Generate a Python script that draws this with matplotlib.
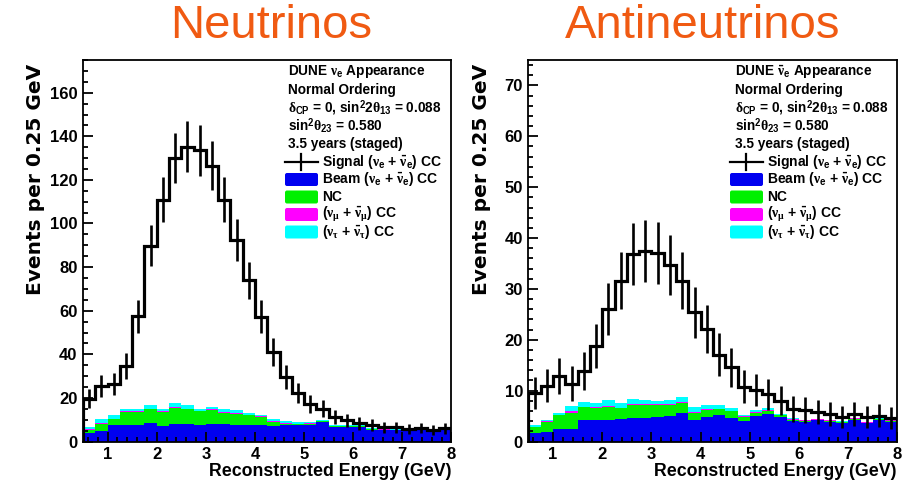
import numpy as np
import matplotlib
matplotlib.use('Agg')
import matplotlib.pyplot as plt
from matplotlib.transforms import Affine2D
from matplotlib.patches import FancyBboxPatch
from matplotlib.ticker import MultipleLocator

plt.rcParams['font.family'] = ['Liberation Sans', 'DejaVu Sans']
plt.rcParams['font.weight'] = 'bold'
plt.rcParams['mathtext.fontset'] = 'custom'
plt.rcParams['mathtext.rm'] = 'Liberation Sans:bold'
plt.rcParams['mathtext.bf'] = 'Liberation Sans:bold'
plt.rcParams['mathtext.it'] = 'Liberation Serif'

# Reconstructed energy bins (GeV), 0.25 GeV wide
edges = np.arange(0.5, 8.01, 0.25)

# Neutrino mode (events per bin)
nu_signal = [19.6, 25.3, 26.5, 34.6, 57.5, 89.8, 111, 130, 135.3, 133.5,
             126.4, 111, 92.4, 73.9, 57.2, 41, 29.6, 22.2, 17.3, 15,
             11.2, 9.7, 8.4, 7.4, 6.6, 6.6, 5.8, 6.2, 5.1, 6.1]
nu_beam = [3.8, 4.6, 7.7, 7.7, 7.7, 8.3, 7.0, 8.0, 8.0, 7.4,
           8.0, 8.0, 7.7, 7.7, 7.4, 7.0, 7.4, 7.4, 7.7, 8.9,
           6.6, 6.6, 6.6, 5.5, 5.2, 5.2, 4.6, 5.5, 4.6, 5.8]
nu_nc = [1.7, 3.5, 2.4, 5.8, 5.8, 6.4, 6.5, 7.3, 6.7, 6.4,
         6.3, 5.2, 5.0, 4.3, 3.9, 1.9, 0.6, 0.6, 0.4, 0.3,
         0.4, 0.3, 0.4, 0.3, 0.3, 0.2, 0.3, 0.2, 0.2, 0.3]
nu_numu = [0.1, 0.2, 0.2, 0.5, 0.4, 0.4, 0.4, 0.5, 0.4, 0.4,
           0.4, 0.3, 0.3, 0.3, 0.3, 0.3, 0.3, 0.2, 0.2, 0.2,
           0.1, 0.1, 0.1, 0.1, 0.1, 0.1, 0.1, 0.1, 0.1, 0.3]
nu_nutau = [1.0, 2.1, 1.7, 1.0, 1.1, 1.8, 1.1, 2.0, 1.5, 0.8,
            1.1, 1.2, 1.3, 0.9, 0.7, 1.1, 0.9, 0.7, 0.6, 0.4,
            0.3, 0.4, 0.6, 0.2, 0.2, 0.2, 0.2, 0.2, 0.2, 0.1]

# Antineutrino mode
anu_signal = [9.5, 11.0, 12.9, 11.4, 13.8, 18.8, 26.0, 31.6, 36.9, 37.5,
              37.1, 34.7, 31.6, 25.4, 22.1, 17.1, 14.6, 10.8, 10.1, 9.3,
              8.0, 6.4, 6.2, 5.8, 5.4, 4.8, 5.4, 4.8, 5.1, 4.6]
anu_beam = [1.7, 1.9, 2.4, 2.4, 4.3, 4.3, 4.3, 4.5, 4.7, 4.7,
            4.9, 5.0, 5.7, 4.3, 4.9, 5.2, 4.6, 4.0, 5.0, 5.4,
            4.9, 4.1, 3.8, 4.2, 3.9, 3.6, 4.3, 3.6, 4.2, 3.9]
anu_nc = [1.1, 2.0, 2.8, 3.3, 2.4, 2.2, 2.4, 2.0, 2.5, 2.5,
          2.3, 2.2, 1.9, 1.4, 1.3, 1.1, 1.3, 0.9, 0.7, 0.6,
          0.3, 0.2, 0.3, 0.1, 0.2, 0.2, 0.2, 0.1, 0.2, 0.1]
anu_numu = [0.05, 0.1, 0.1, 0.25, 0.1, 0.2, 0.25, 0.1, 0.1, 0.1,
            0.1, 0.1, 0.2, 0.1, 0.1, 0.1, 0.1, 0.05, 0.15, 0.2,
            0.05, 0.1, 0.05, 0.05, 0.05, 0.1, 0.05, 0.1, 0.05, 0.15]
anu_nutau = [0.35, 0.3, 0.4, 1.05, 1.0, 0.9, 1.15, 0.9, 1.0, 0.8,
             0.7, 0.8, 1.0, 0.9, 0.9, 0.8, 0.6, 0.35, 0.3, 0.3,
             0.25, 0.3, 0.15, 0.15, 0.1, 0.05, 0.15, 0.1, 0.1, 0.1]

bkg_colors = ['#0000F0', '#00F000', '#FF00FF', '#00FFFF']
title_color = '#F05A12'

W, H = 920, 484
fig = plt.figure(figsize=(W / 100, H / 100), dpi=100)
# pixel coordinates, y measured from the top
pix = Affine2D().scale(1 / W, -1 / H).translate(0, 1) + fig.transFigure


def add_axes_px(x0, x1, ytop, ybot):
    return fig.add_axes([x0 / W, 1 - ybot / H, (x1 - x0) / W, (ybot - ytop) / H])


def draw_panel(ax, signal, bkgs, ymax, ymaj, ymin):
    base = np.zeros(len(signal))
    for vals, col in zip(bkgs, bkg_colors):
        top = base + np.array(vals)
        ax.stairs(top, edges, baseline=base, fill=True, color=col, lw=0)
        base = top
    sig = np.array(signal)
    centers = 0.5 * (edges[:-1] + edges[1:])
    ax.stairs(sig, edges, color='k', lw=2.3)
    ax.errorbar(centers, sig, yerr=np.sqrt(sig), fmt='none', ecolor='k', elinewidth=1.9)
    ax.set_xlim(0.5, 8)
    ax.set_ylim(0, ymax)
    ax.set_xticks(range(1, 9))
    ax.xaxis.set_minor_locator(MultipleLocator(0.2))
    ax.yaxis.set_major_locator(MultipleLocator(ymaj))
    ax.yaxis.set_minor_locator(MultipleLocator(ymin))
    ax.tick_params(which='both', direction='in', top=False, right=False,
                   width=1.3, labelsize=12)
    ax.tick_params(which='major', length=7.5, pad=4)
    ax.tick_params(which='minor', length=3.8)
    for s in ax.spines.values():
        s.set_linewidth(1.3)


def draw_legend(xh, xbox, header):
    rows = [72, 90, 108, 126, 144]
    for y, txt in zip(rows, header):
        fig.text(xh, y, txt, transform=pix, fontsize=9.8, va='center', ha='left')
    labels = [r'Signal ($\nu_\mathrm{e}$ + $\bar{\nu}_\mathrm{e}$) CC',
              r'Beam ($\nu_\mathrm{e}$ + $\bar{\nu}_\mathrm{e}$) CC',
              'NC',
              r'($\nu_\mu$ + $\bar{\nu}_\mu$) CC',
              r'($\nu_\tau$ + $\bar{\nu}_\tau$) CC']
    ys = [162, 179.5, 197, 214.5, 232]
    bw, bh = 33, 13
    for i, (y, lab) in enumerate(zip(ys, labels)):
        if i == 0:
            fig.add_artist(plt.Line2D([xbox, xbox + bw], [y, y], transform=pix, color='k', lw=1.6))
            fig.add_artist(plt.Line2D([xbox + bw / 2, xbox + bw / 2], [y - 8, y + 8], transform=pix, color='k', lw=1.6))
        else:
            fig.add_artist(FancyBboxPatch((xbox, y - bh / 2), bw, bh, transform=pix,
                                          boxstyle='round,pad=0,rounding_size=2',
                                          facecolor=bkg_colors[i - 1], edgecolor='none'))
        fig.text(xbox + bw + 4, y, lab, transform=pix, fontsize=10, va='center', ha='left')


ax1 = add_axes_px(83, 451.5, 60, 441.5)
draw_panel(ax1, nu_signal, [nu_beam, nu_nc, nu_numu, nu_nutau], 175, 20, 5)
ax2 = add_axes_px(528.5, 897.5, 60, 441.5)
draw_panel(ax2, anu_signal, [anu_beam, anu_nc, anu_numu, anu_nutau], 75, 10, 2)

osc = [r'Normal Ordering',
       r'$\delta_\mathrm{CP}$ = 0, sin$^\mathrm{2}$2$\theta_\mathrm{13}$ = 0.088',
       r'sin$^\mathrm{2}\theta_\mathrm{23}$ = 0.580',
       '3.5 years (staged)']
draw_legend(288, 285, [r'DUNE $\nu_\mathrm{e}$ Appearance'] + osc)
draw_legend(735, 730, [r'DUNE $\bar{\nu}_\mathrm{e}$ Appearance'] + osc)

for xc, xr in [(36, 452), (482, 897)]:
    fig.text(xc, 64, 'Events per 0.25 GeV', transform=pix, rotation=90,
             ha='center', va='top', fontsize=14.5, family='DejaVu Sans')
    fig.text(xr, 476, 'Reconstructed Energy (GeV)', transform=pix,
             ha='right', va='baseline', fontsize=12.8)

fig.text(271, 38, 'Neutrinos', transform=pix, ha='center', va='baseline',
         fontsize=34, fontweight='normal', color=title_color)
fig.text(703, 38, 'Antineutrinos', transform=pix, ha='center', va='baseline',
         fontsize=34, fontweight='normal', color=title_color)

fig.savefig('out.png', dpi=100)
